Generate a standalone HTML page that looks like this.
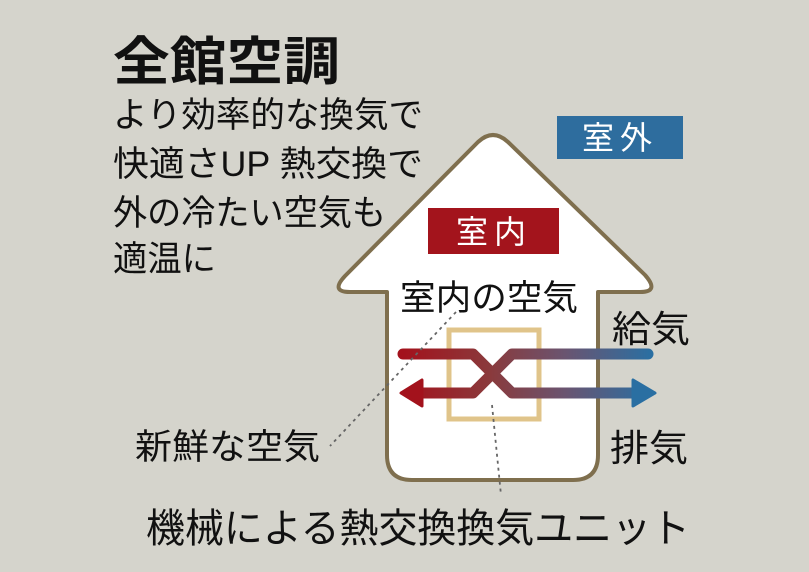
<!DOCTYPE html>
<html><head><meta charset="utf-8"><style>
html,body{margin:0;padding:0;background:#d5d4cc}
svg{display:block}
text{font-family:"Liberation Sans","Noto Sans CJK JP",sans-serif;fill:#111}
</style></head><body>
<svg width="809" height="572" viewBox="0 0 809 572" xmlns="http://www.w3.org/2000/svg">
<defs>
<linearGradient id="g" x1="403" y1="0" x2="652" y2="0" gradientUnits="userSpaceOnUse">
<stop offset="0" stop-color="#a3121c"/><stop offset="0.35" stop-color="#8a3a3c"/><stop offset="0.65" stop-color="#6a5470"/><stop offset="1" stop-color="#2a6fa2"/>
</linearGradient>
</defs>
<rect width="809" height="572" fill="#d5d4cc"/>
<text x="113" y="80" font-size="52" font-weight="bold" textLength="227" lengthAdjust="spacingAndGlyphs">全館空調</text>
<text x="113" y="127" font-size="35" textLength="310" lengthAdjust="spacingAndGlyphs">より効率的な換気で</text>
<text x="113" y="176" font-size="35" textLength="310" lengthAdjust="spacingAndGlyphs">快適さUP 熱交換で</text>
<text x="113" y="225" font-size="35" textLength="273" lengthAdjust="spacingAndGlyphs">外の冷たい空気も</text>
<text x="113" y="271" font-size="35" textLength="103" lengthAdjust="spacingAndGlyphs">適温に</text>
<path d="M478,142 Q493,128 508,142 L645,275 Q660,292 640,292 L598,292 L598,455 Q598,480 573,480 L412,480 Q387,480 387,455 L387,292 L350,292 Q330,292 345,276 Z" fill="#fff" stroke="#7f6f4e" stroke-width="4" stroke-linejoin="round"/>
<rect x="557" y="116" width="126" height="43" fill="#2e6d9e"/>
<text x="620" y="149" font-size="32" text-anchor="middle" style="fill:#fff" letter-spacing="6">室外</text>
<rect x="428" y="208" width="131" height="46" fill="#a3141c"/>
<text x="494" y="243" font-size="32" text-anchor="middle" style="fill:#fff" letter-spacing="6">室内</text>
<text x="400" y="310" font-size="35" textLength="178" lengthAdjust="spacingAndGlyphs">室内の空気</text>
<text x="612" y="342" font-size="37" textLength="78" lengthAdjust="spacingAndGlyphs">給気</text>
<text x="610" y="461" font-size="37" textLength="78" lengthAdjust="spacingAndGlyphs">排気</text>
<text x="135" y="459" font-size="35" textLength="185" lengthAdjust="spacingAndGlyphs">新鮮な空気</text>
<text x="146" y="542" font-size="40" textLength="544" lengthAdjust="spacingAndGlyphs">機械による熱交換換気ユニット</text>
<rect x="449" y="330" width="90" height="89" fill="none" stroke="#e0c48a" stroke-width="5"/>
<g fill="none" stroke="url(#g)" stroke-width="11" stroke-linecap="round" stroke-linejoin="round">
<path d="M403,354 L473,354 L512,393 L638,393"/>
<path d="M418,393 L473,393 L512,354 L648,354"/>
</g>
<path d="M401,393 L422,380 L422,406 Z" fill="#a3121c" stroke="#a3121c" stroke-width="3" stroke-linejoin="round"/>
<path d="M655,393 L633,380 L633,406 Z" fill="#2a6fa2" stroke="#2a6fa2" stroke-width="3" stroke-linejoin="round"/>
<g stroke="#666" stroke-width="1.8" stroke-dasharray="3,4" fill="none">
<line x1="456" y1="312" x2="330" y2="446"/>
<line x1="492" y1="405" x2="501" y2="495"/>
</g>
</svg>
</body></html>
